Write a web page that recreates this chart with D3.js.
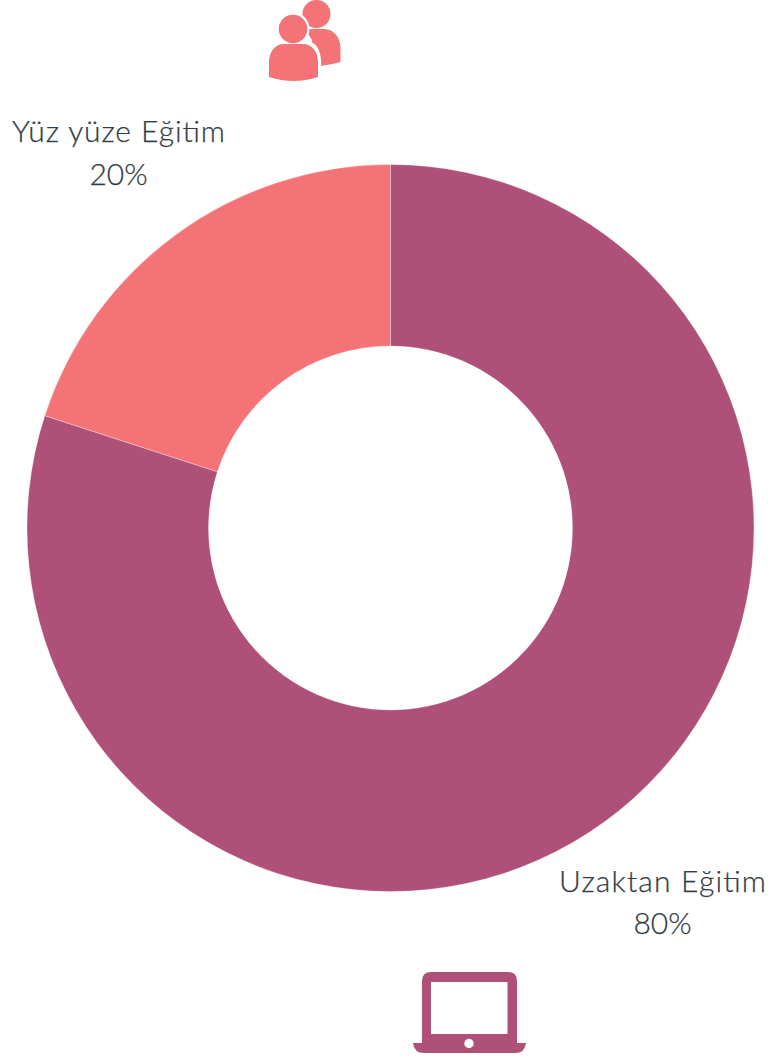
<!DOCTYPE html>
<html><head><meta charset="utf-8">
<script src="https://cdn.jsdelivr.net/npm/d3@7/dist/d3.min.js"></script>
<style>html,body{margin:0;padding:0;background:#fff}svg{display:block}</style>
</head><body><div id="c"></div>
<script>
const categories = ["Uzaktan Eğitim", "Yüz yüze Eğitim"];
const shares = [80, 20];
const colors = ["#AF5079", "#F47376"];
const W = 768, H = 1059, cx = 390.5, cy = 528, R = 363.5, r0 = 182;
const svg = d3.select("#c").append("svg").attr("width", W).attr("height", H);
const pie = d3.pie().sort(null).value(d => d)(shares);
const arc = d3.arc().innerRadius(r0).outerRadius(R);
svg.append("g").attr("transform", `translate(${cx},${cy})`)
  .selectAll("path").data(pie).join("path")
  .attr("d", arc).attr("fill", (d, i) => colors[i])
  .attr("stroke", "#fff").attr("stroke-width", 0.3);

const labelPos = [[662.5, 892, 934, 207], [118.5, 142, 185, 213]];
const font = "Lato, 'Open Sans', sans-serif";
const lab = svg.append("g").attr("font-family", font).attr("font-weight", 300)
  .attr("font-size", 30).attr("fill", "#333D45").attr("stroke", "#333D45").attr("stroke-width", 0.25)
  .attr("text-anchor", "middle");
categories.forEach((c, i) => {
  const p = labelPos[i];
  lab.append("text").attr("x", p[0]).attr("y", p[1]).attr("textLength", p[3])
     .attr("lengthAdjust", "spacing").text(c);
  lab.append("text").attr("x", p[0]).attr("y", p[2]).text(shares[i] + "%");
});

// People icon
const ppl = svg.append("g").attr("fill", colors[1]);
ppl.append("circle").attr("cx", 316.5).attr("cy", 14).attr("r", 14);
ppl.append("path").attr("d", "M305 29 H324 C334 29 340.5 38 340.5 48 V62 Q330 65 312 67 V40 Z");
ppl.append("circle").attr("cx", 293).attr("cy", 29).attr("r", 16.5).attr("fill", "#fff");
ppl.append("path").attr("d", "M280 41 H306 C318 41 322 54 321 68 L320 80 H266 V60 C266 50 272 41 280 41Z").attr("fill", "#fff");
ppl.append("circle").attr("cx", 293).attr("cy", 29).attr("r", 14.3);
ppl.append("path").attr("d", "M284 44 H303 C312 44 318 52 318 62 V77 Q294 85 269 77 V62 C269 52 275 44 284 44Z");

// Laptop icon
const lap = svg.append("g").attr("fill", colors[0]);
lap.append("path").attr("fill-rule", "evenodd")
  .attr("d", "M431 972 H508 Q517 972 517 981 V1044 H422 V981 Q422 972 431 972Z M431 982 V1034 H507.5 V982Z");
lap.append("path").attr("d", "M413 1043 H526 Q525 1053 515 1053 H424 Q414 1053 413 1043Z");
lap.append("circle").attr("cx", 469).attr("cy", 1043.5).attr("r", 4.7).attr("fill", "#fff");
</script></body></html>
